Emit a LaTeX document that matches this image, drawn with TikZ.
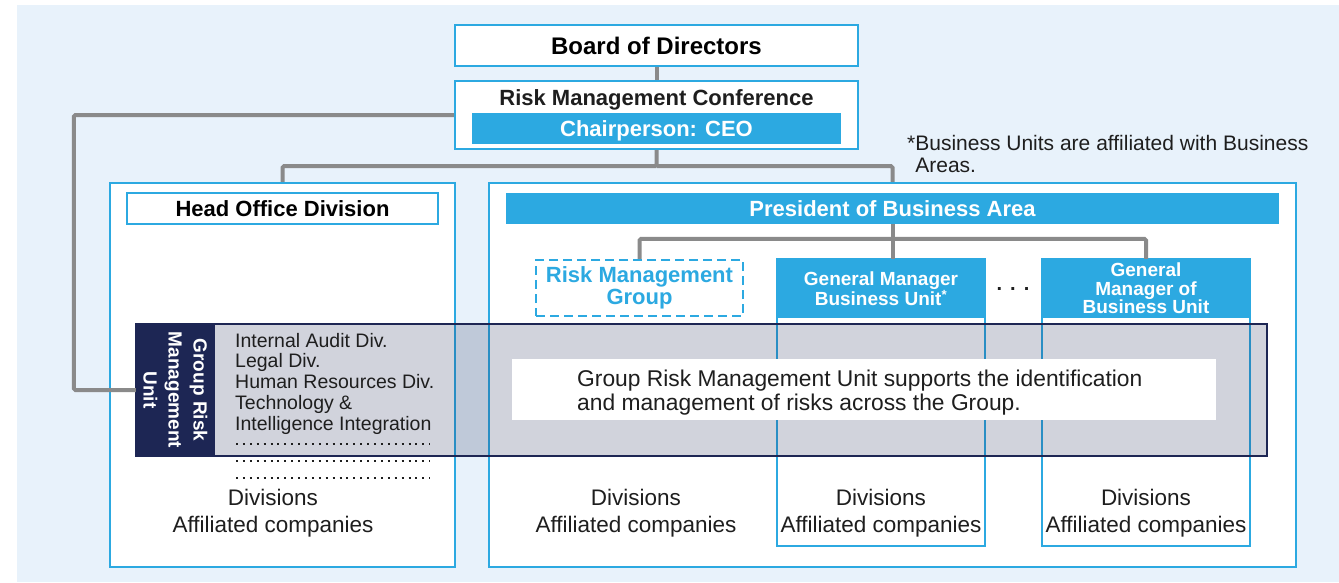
\documentclass[tikz,border=0pt]{standalone}
\usepackage{fontspec}
\setmainfont{Liberation Sans}
\usepackage{tikz}
\usetikzlibrary{positioning}
\definecolor{bgblue}{HTML}{E8F2FB}
\definecolor{riskblue}{HTML}{2CA9E1}
\definecolor{linegray}{HTML}{8A8A8A}
\definecolor{navy}{HTML}{1D2654}
\definecolor{ink}{HTML}{1E1E1E}
\newcommand{\fs}[2]{\fontsize{#1}{#2}\selectfont}

\begin{document}
\begin{tikzpicture}[x=1pt,y=-1pt,
  frame/.style={draw=riskblue,line width=2.2pt,fill=white,inner sep=0pt},
  bar/.style={fill=riskblue,text=white,inner sep=0pt,font=\fs{22}{24}\bfseries,text height=15.8pt,text depth=0pt},
  gmhead/.style={fill=riskblue,text=white,inner sep=0pt,align=center,minimum width=208pt,minimum height=59pt},
  conn/.style={draw=linegray,line width=4pt,rounded corners=1.5pt},
  dotrow/.style={ink,line width=2pt,dash pattern=on 2pt off 4.9pt},
  plain/.style={inner sep=0pt,text=ink}]
% page and light blue ground
\useasboundingbox (0,0) rectangle (1339,582);
\fill[white] (0,0) rectangle (1339,582);
\fill[bgblue] (17,5) rectangle (1339,582);
% top of the chart
\node[frame,minimum width=403pt,minimum height=41pt,font=\fs{24}{26}\bfseries,text height=17.3pt,text depth=0pt] (bod) at (656.5,45.5) {Board of Directors};
\node[frame,minimum width=403pt,minimum height=68pt] (rmc) at (656.5,115) {};
\node[plain,anchor=base,font=\fs{22}{24}\bfseries] (rmctitle) at (656.5,105) {Risk Management Conference};
\node[bar,minimum width=369pt,minimum height=31pt] (chair) at (656.5,128.5) {Chairperson: CEO};
\node[plain,anchor=base west,align=left,font=\fs{21}{22}] (footnote) at (907,172) {*Business Units are affiliated with Business\\\hphantom{*}Areas.};
% head office side
\node[frame,minimum width=345pt,minimum height=384pt] (hob) at (282.5,375) {};
\node[frame,minimum width=311pt,minimum height=31pt,font=\fs{22}{24}\bfseries,text height=15.8pt,text depth=0pt] (hod) at (282.5,208.5) {Head Office Division};
% business area side
\node[frame,minimum width=807pt,minimum height=384pt] (bab) at (892.5,375) {};
\node[bar,minimum width=773pt,minimum height=31pt] (pres) at (892.5,208.5) {President of Business Area};
\node[frame,dash pattern=on 9pt off 5pt,minimum width=207pt,minimum height=56pt,text=riskblue,align=center,font=\fs{22}{22}\bfseries] (rmg) at (639.5,288) {Risk Management\\Group};
\node[frame,minimum width=208pt,minimum height=287pt] (gm1) at (881,402.5) {};
\node[gmhead,font=\fs{19}{18}\bfseries] (gm1head) at (881,288.5) {General Manager\\Business Unit\textsuperscript{*}};
\node[frame,minimum width=208pt,minimum height=287pt] (gm2) at (1146,402.5) {};
\node[gmhead,font=\fs{19}{18.5}\bfseries] (gm2head) at (1146,288.5) {General\\Manager of\\Business Unit};
\node[plain,anchor=base,font=\fs{20}{20}\bfseries] (dots) at (1013,290) {.\hspace{8pt}.\hspace{8pt}.};
% group risk management band
\node[draw=navy,line width=1.5pt,fill=navy,fill opacity=0.2,minimum width=1131pt,minimum height=132pt] (grmu) at (701.5,390) {};
\node[fill=navy,inner sep=0pt,minimum width=79pt,minimum height=132pt] (glabel) at (175.5,390) {};
\node[inner sep=0pt,text=white,rotate=-90,align=center,font=\fs{19}{25}\bfseries] (glabeltext) at (glabel.center) {Group Risk\\Management\\Unit};
\node[plain,anchor=base west,align=left,font=\fs{19.5}{20.75}] (divlist) at (235,430) {Internal Audit Div.\\Legal Div.\\Human Resources Div.\\Technology \&\\Intelligence Integration};
\draw[dotrow] (236,444) -- (430,444);
\draw[dotrow] (236,461) -- (430,461);
\draw[dotrow] (236,478) -- (430,478);
\node[fill=white,inner sep=0pt,minimum width=704pt,minimum height=61pt] (note) at (864,389.5) {};
\node[plain,anchor=base west,align=left,font=\fs{22.8}{24}] (notetext) at (577,410) {Group Risk Management Unit supports the identification\\and management of risks across the Group.};
% divisions and companies
\node[plain,anchor=base,align=center,font=\fs{22.5}{27}] (hocomp) at (273,532) {Divisions\\Affiliated companies};
\node[plain,anchor=base,align=center,font=\fs{22.5}{27}] (bacomp) at (636,532) {Divisions\\Affiliated companies};
\node[plain,anchor=base,align=center,font=\fs{22.5}{27}] (gm1comp) at (881,532) {Divisions\\Affiliated companies};
\node[plain,anchor=base,align=center,font=\fs{22.5}{27}] (gm2comp) at (1146,532) {Divisions\\Affiliated companies};
% connectors
\draw[conn] (bod.south) -- (rmc.north);
\draw[conn] (rmc.south) -- ++(0,16) coordinate (split) -| (hob.north);
\draw[conn] (split) -| (bab.north);
\draw[conn] (rmc.west) -- ++(-380,0) |- (glabel.west);
\draw[conn] (pres.south) -- (pres.south |- gm1head.north);
\draw[conn] (rmg.north) -- ++(0,-20) -| (gm2head.north);
\end{tikzpicture}
\end{document}
